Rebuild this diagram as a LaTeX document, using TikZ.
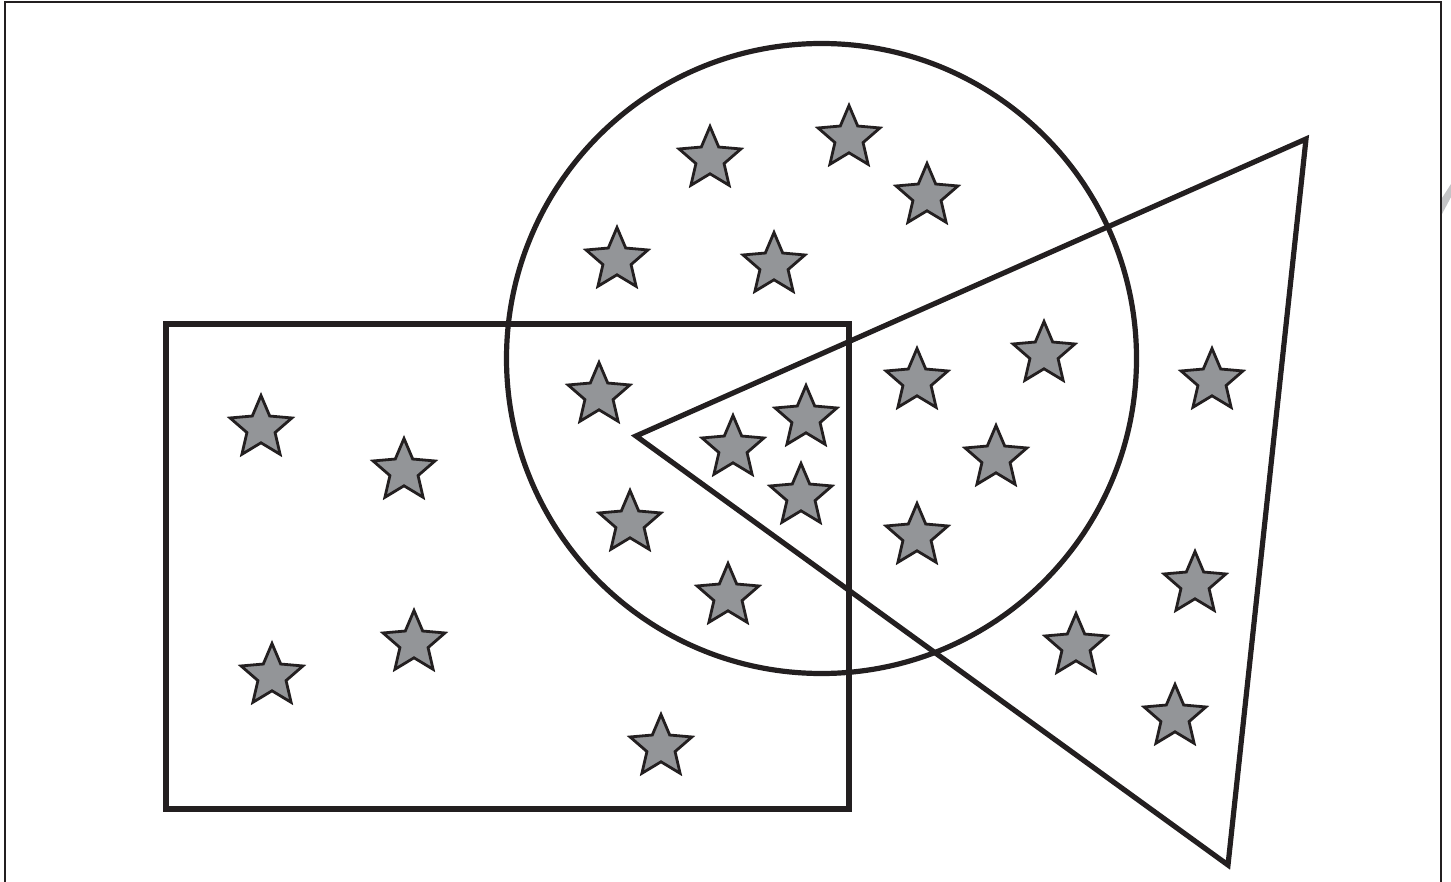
\documentclass[tikz,border=0pt]{standalone}
\definecolor{starfill}{HTML}{939598}
\definecolor{inkline}{HTML}{231F20}
\definecolor{markgray}{HTML}{C4C4C6}
\tikzset{
  shapeline/.style={draw=inkline, line width=5.2pt, line join=miter},
  starline/.style={draw=inkline, fill=starfill, line width=2.8pt, line join=miter},
  frameline/.style={draw=inkline, line width=2pt},
  astar/.pic={
    \path[starline] (-90:32.5) -- (-54:14.8) -- (-18:32.5) -- (18:14.8) -- (54:32.5)
      -- (90:14.8) -- (126:32.5) -- (162:14.8) -- (198:32.5) -- (234:14.8) -- cycle;
  }
}
\begin{document}
\begin{tikzpicture}[x=1pt,y=-1pt]
\useasboundingbox (0,0) rectangle (1451,882);
\fill[white] (0,0) rectangle (1451,882);
% frame
\coordinate (fbl) at (5,882);
\coordinate (ftl) at (5,2);
\coordinate (ftr) at (1441,2);
\coordinate (fbr) at (1441,882);
\draw[frameline] (fbl) -- (ftl) -- (ftr) -- (fbr);
% cropped grey mark at right edge
\fill[markgray] (1442,198) -- (1451,184) -- (1451,197) -- (1442,214) -- cycle;
% stars
\foreach \cx/\cy in {
  710/159, 849/138, 927/196, 617/260, 774/265,
  261/428, 404/471,
  917/381, 1044/354, 1212/381, 996/458, 917/536,
  272/676, 414/643,
  1195/584, 1076/646, 1175/717,
  728/596, 661/747,
  599/395, 733/448, 806/418, 801/496, 630/523}
  { \pic at (\cx,\cy) {astar}; }
% rectangle
\coordinate (rtl) at (166,324);
\coordinate (rbr) at (849,809);
\draw[shapeline] (rtl) rectangle (rbr);
% circle
\coordinate (cc) at (821.5,358.5);
\draw[shapeline] (cc) circle[radius=315];
% triangle
\coordinate (ta) at (636,436);
\coordinate (tb) at (1306,139);
\coordinate (tc) at (1228,865);
\draw[shapeline] (ta) -- (tb) -- (tc) -- cycle;
\end{tikzpicture}
\end{document}
